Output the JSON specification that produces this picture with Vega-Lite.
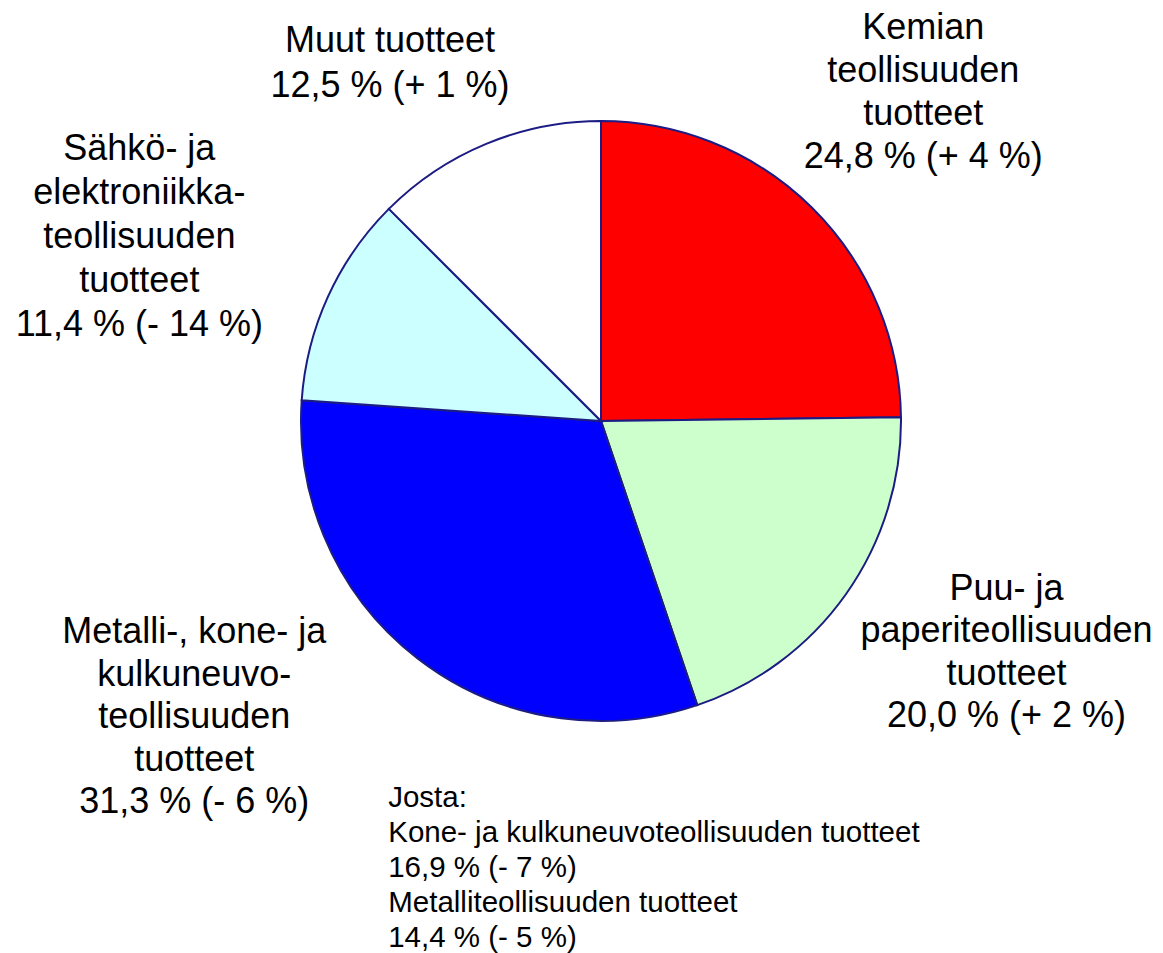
{
  "$schema": "https://vega.github.io/schema/vega-lite/v6.json",
  "width": 1124,
  "height": 842,
  "autosize": {"type": "none"},
  "padding": {"left": 39, "top": 0, "right": 0, "bottom": 111},
  "background": "white",
  "config": {"view": {"stroke": null}, "text": {"font": "Liberation Sans", "fill": "black"}},
  "data": {
    "values": [
      {"i": 1, "cat": "Kemian teollisuuden tuotteet", "value": 24.8, "label": "Kemian\nteollisuuden\ntuotteet\n24,8 % (+ 4 %)", "sub": ""},
      {"i": 2, "cat": "Puu- ja paperiteollisuuden tuotteet", "value": 20.0, "label": "Puu- ja\npaperiteollisuuden\ntuotteet\n20,0 % (+ 2 %)", "sub": ""},
      {"i": 3, "cat": "Metalli-, kone- ja kulkuneuvoteollisuuden tuotteet", "value": 31.3, "label": "Metalli-, kone- ja\nkulkuneuvo-\nteollisuuden\ntuotteet\n31,3 % (- 6 %)", "sub": "Josta:\nKone- ja kulkuneuvoteollisuuden tuotteet\n16,9 % (- 7 %)\nMetalliteollisuuden tuotteet\n14,4 % (- 5 %)"},
      {"i": 4, "cat": "Sähkö- ja elektroniikkateollisuuden tuotteet", "value": 11.4, "label": "Sähkö- ja\nelektroniikka-\nteollisuuden\ntuotteet\n11,4 % (- 14 %)", "sub": ""},
      {"i": 5, "cat": "Muut tuotteet", "value": 12.5, "label": "Muut tuotteet\n12,5 % (+ 1 %)", "sub": ""}
    ]
  },
  "encoding": {
    "theta": {"field": "value", "type": "quantitative", "stack": true},
    "order": {"field": "i", "type": "quantitative"},
    "detail": {"field": "cat", "type": "nominal"}
  },
  "layer": [
    {
      "mark": {"type": "arc", "outerRadius": 300, "stroke": "#1c1c84", "strokeWidth": 2},
      "encoding": {
        "color": {
          "field": "cat",
          "type": "nominal",
          "legend": null,
          "scale": {
            "domain": ["Kemian teollisuuden tuotteet", "Puu- ja paperiteollisuuden tuotteet", "Metalli-, kone- ja kulkuneuvoteollisuuden tuotteet", "Sähkö- ja elektroniikkateollisuuden tuotteet", "Muut tuotteet"],
            "range": ["#ff0000", "#ccffcc", "#0000ff", "#ccffff", "#ffffff"]
          }
        }
      }
    },
    {
      "mark": {"type": "text", "radius": 460, "dx": -1, "dy": -55, "align": "center", "baseline": "alphabetic", "fontSize": 36, "lineHeight": 43, "lineBreak": "\n"},
      "encoding": {"text": {"condition": {"test": "datum.i === 1", "field": "label", "type": "nominal"}, "value": ""}}
    },
    {
      "mark": {"type": "text", "radius": 460, "dx": 30, "dy": -87, "align": "center", "baseline": "alphabetic", "fontSize": 36, "lineHeight": 42.5, "lineBreak": "\n"},
      "encoding": {"text": {"condition": {"test": "datum.i === 2", "field": "label", "type": "nominal"}, "value": ""}}
    },
    {
      "mark": {"type": "text", "radius": 460, "dx": -126, "dy": -142, "align": "center", "baseline": "alphabetic", "fontSize": 36, "lineHeight": 42.5, "lineBreak": "\n"},
      "encoding": {"text": {"condition": {"test": "datum.i === 3", "field": "label", "type": "nominal"}, "value": ""}}
    },
    {
      "mark": {"type": "text", "radius": 460, "dx": -43, "dy": -70, "align": "center", "baseline": "alphabetic", "fontSize": 36, "lineHeight": 44, "lineBreak": "\n"},
      "encoding": {"text": {"condition": {"test": "datum.i === 4", "field": "label", "type": "nominal"}, "value": ""}}
    },
    {
      "mark": {"type": "text", "radius": 460, "dx": -35, "dy": 56, "align": "center", "baseline": "alphabetic", "fontSize": 36, "lineHeight": 44.5, "lineBreak": "\n"},
      "encoding": {"text": {"condition": {"test": "datum.i === 5", "field": "label", "type": "nominal"}, "value": ""}}
    },
    {
      "mark": {"type": "text", "radius": 460, "dx": 68, "dy": 22, "align": "left", "baseline": "alphabetic", "fontSize": 29.5, "lineHeight": 35, "lineBreak": "\n"},
      "encoding": {"text": {"condition": {"test": "datum.i === 3", "field": "sub", "type": "nominal"}, "value": ""}}
    }
  ]
}
